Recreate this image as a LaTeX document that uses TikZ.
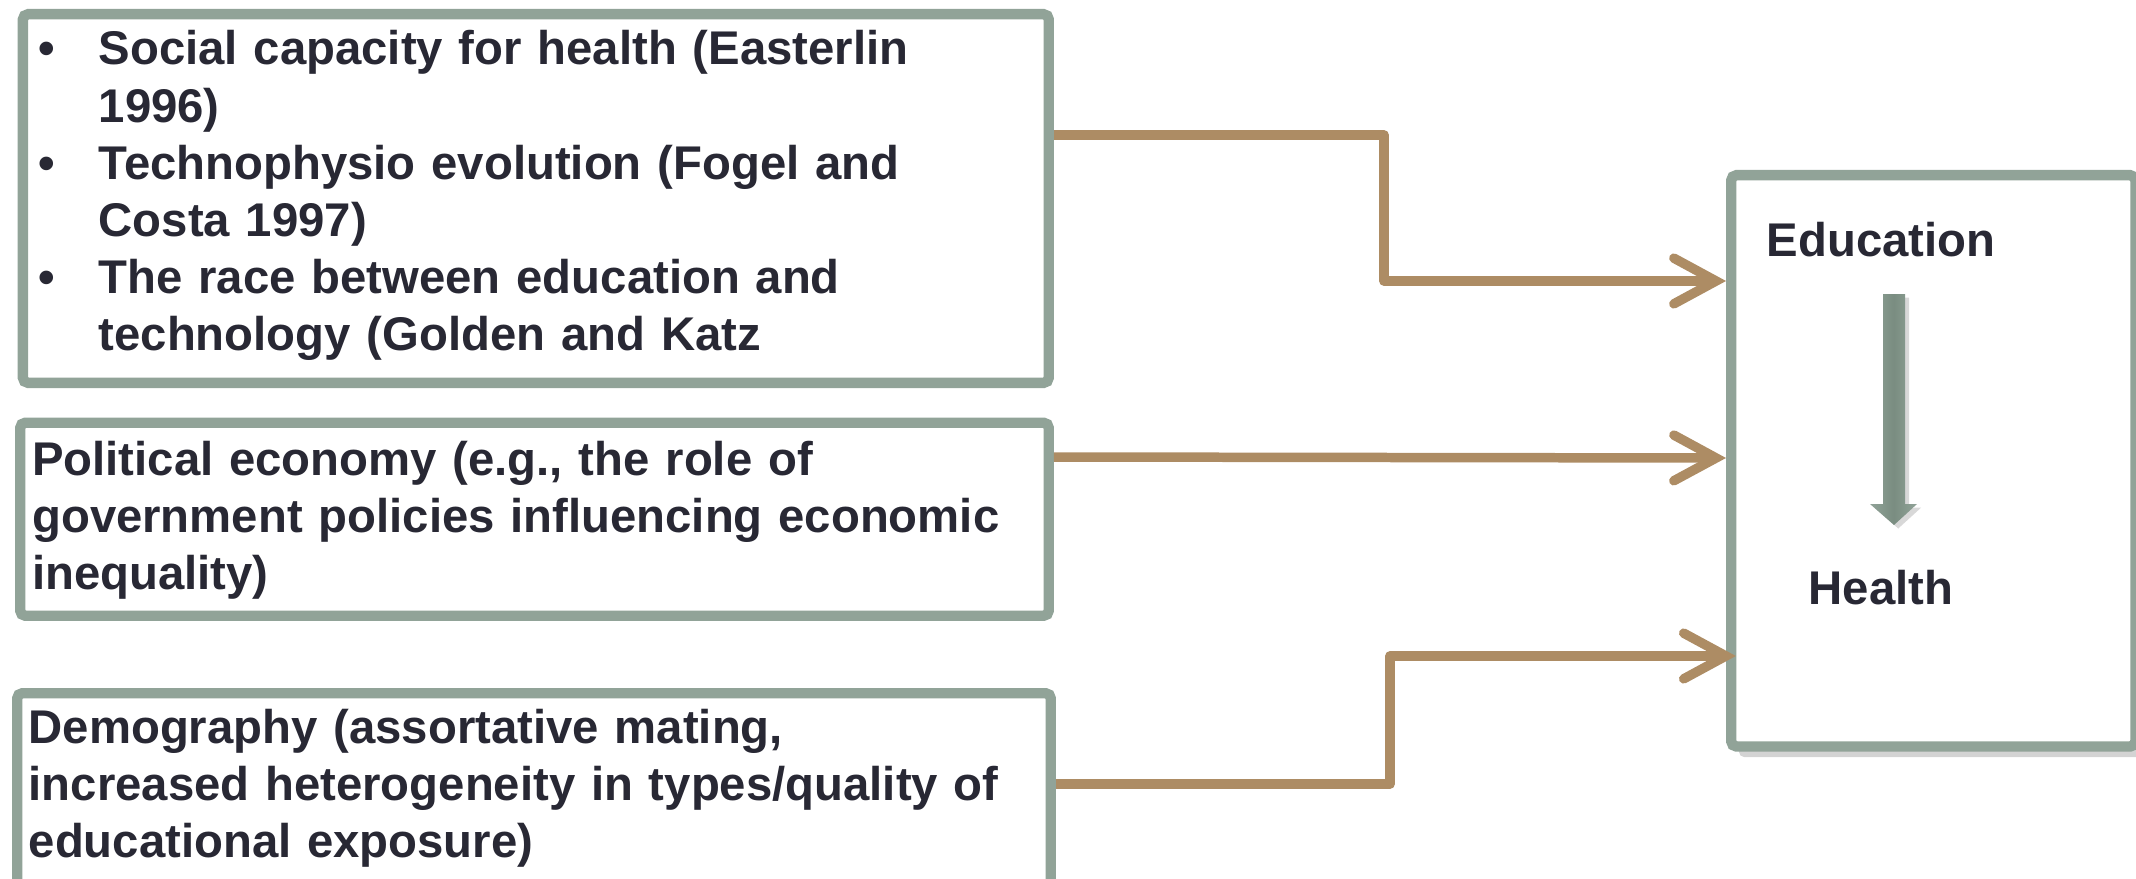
\documentclass[tikz,border=0pt]{standalone}
\usepackage{fontspec}
\setmainfont{Liberation Sans}
\usepackage{tikz}
\usetikzlibrary{arrows.meta, positioning, shadows}

\definecolor{framegreen}{RGB}{145,163,152}
\definecolor{frameshade}{RGB}{122,141,129}
\definecolor{linktan}{RGB}{173,140,100}
\definecolor{inkdark}{RGB}{40,40,52}

\begin{document}
\begin{tikzpicture}[x=0.01cm, y=-0.01cm, node distance=1.0cm,
    factor/.style={draw=framegreen, line width=2.95pt, rounded corners=1.5pt, fill=white, anchor=north west, inner sep=0pt},
    words/.style={font=\fontsize{13.45}{16.22}\selectfont\bfseries, text=inkdark, text width=10.3cm, align=left, inner sep=0pt, anchor=base west},
    keyword/.style={font=\fontsize{13.45}{16.22}\selectfont\bfseries, text=inkdark, inner sep=0pt},
    feed/.style={draw=linktan, line width=2.7pt, line join=round, -{Straight Barb[length=12pt, width=13pt, line cap=round]}}]
  \useasboundingbox (0,0) rectangle (2136,879);

  \node (social) [factor, minimum width=10.253cm, minimum height=3.685cm] at (17.7,9) {};
  \node (policy) [factor, minimum width=10.28cm, minimum height=1.93cm] at (15,417.5) {};
  \node (demo) [factor, minimum width=10.33cm, minimum height=1.94cm] at (12,688) {};
  \node (outcome) [factor, minimum width=4.04cm, minimum height=5.71cm,
    drop shadow={shadow xshift=2.2pt, shadow yshift=-3pt, opacity=0.35}] at (1726,170) {};

  \node (socialtext) [words] at (37.6,65) {\makebox[0.604cm][l]{\textbullet}Social capacity for health (Easterlin\\
    \hspace*{0.604cm}1996)\\
    \makebox[0.604cm][l]{\textbullet}Technophysio evolution (Fogel and\\
    \hspace*{0.604cm}Costa 1997)\\
    \makebox[0.604cm][l]{\textbullet}The race between education and\\
    \hspace*{0.604cm}technology (Golden and Katz};
  \node (policytext) [words] at (31.5,475) {Political economy (e.g., the role of\\
    government policies influencing economic\\
    inequality)};
  \node (demotext) [words] at (28,743) {Demography (assortative mating,\\
    increased heterogeneity in types/quality of\\
    educational exposure)};

  \node (edu) [keyword, anchor=base west] at (1766,257) {Education};
  \node (hlth) [keyword, below=3.47cm of edu.base, anchor=base] {Health};

  \shade [left color=framegreen, right color=framegreen, middle color=frameshade,
    drop shadow={shadow xshift=1.2pt, shadow yshift=-1pt, opacity=0.3}]
    (1883,294) -- (1905,294) -- (1905,504) -- (1917,504) -- (1894,525) -- (1870,504) -- (1883,504) -- cycle;

  \draw [feed] (social.east |- 0,135) -| (1384,281) -- (outcome.west |- 0,281);
  \draw [feed] (policy.east |- 0,457) -- (outcome.west |- 0,458);
  \draw [feed, shorten >=-2.8pt] (demo.east |- 0,784) -| (1390,656) -- (outcome.west |- 0,656);
\end{tikzpicture}
\end{document}
